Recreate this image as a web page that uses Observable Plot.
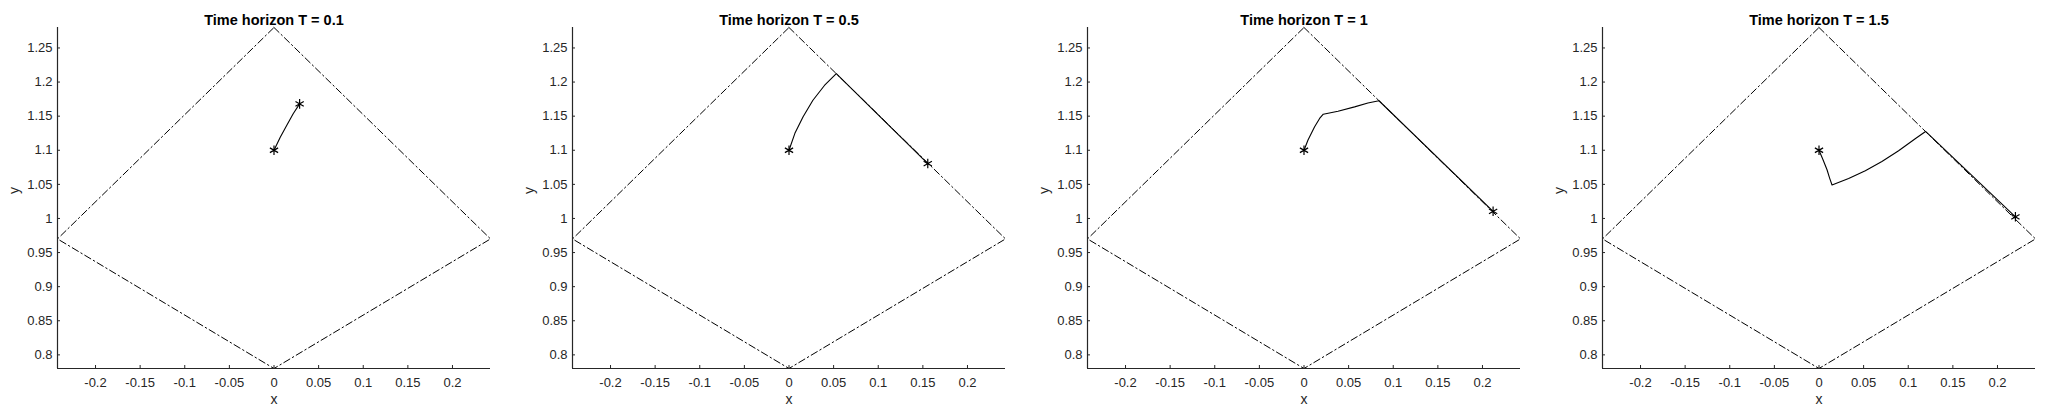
<!DOCTYPE html>
<html>
<head>
<meta charset="utf-8">
<script src="https://cdn.jsdelivr.net/npm/d3@7"></script>
<script src="https://cdn.jsdelivr.net/npm/@observablehq/plot@0.6"></script>
<style>
  html, body { margin: 0; padding: 0; background: #fff; width: 2050px; height: 415px; overflow: hidden; }
  #wrap { position: relative; width: 2050px; height: 415px; }
  .panel { position: absolute; top: 0; }
</style>
</head>
<body>
<div id="wrap"></div>
<script>
// ---- data ----
const horizons = ["0.1", "0.5", "1", "1.5"];

const boundaryX = [0, 0.2426, 0, -0.2426, 0];
const boundaryY = [1.28, 0.97, 0.78, 0.97, 1.28];

const path1X = [0, 0.007, 0.0145, 0.0215, 0.0287];
const path1Y = [1.1, 1.119, 1.137, 1.1535, 1.168];

const path2X = [0, 0.0066, 0.0158, 0.0268, 0.0397, 0.053, 0.1555];
const path2Y = [1.1, 1.1248, 1.149, 1.1733, 1.195, 1.2123, 1.0805];

const path3X = [0, 0.0045, 0.0119, 0.0175, 0.0216, 0.0381, 0.0567, 0.0716, 0.084, 0.2119];
const path3Y = [1.1, 1.115, 1.1345, 1.1466, 1.1529, 1.1573, 1.1636, 1.1694, 1.1726, 1.0105];

const path4X = [0, 0.0045, 0.009, 0.0119, 0.0146, 0.0332, 0.0519, 0.0705, 0.0892, 0.1078, 0.1194, 0.2201];
const path4Y = [1.1, 1.086, 1.0714, 1.0592, 1.049, 1.0585, 1.0701, 1.0836, 1.0992, 1.1168, 1.1276, 1.0024];

const xTicks = [-0.2, -0.15, -0.1, -0.05, 0, 0.05, 0.1, 0.15, 0.2];
const yTicks = [0.8, 0.85, 0.9, 0.95, 1, 1.05, 1.1, 1.15, 1.2, 1.25];

const xDomain = [-0.2426, 0.2426];
const yDomain = [0.78, 1.28];

const pathsX = [path1X, path2X, path3X, path4X];
const pathsY = [path1Y, path2Y, path3Y, path4Y];

// ---- drawing ----
const font = "'Liberation Sans', Arial, Helvetica, sans-serif";
const axisColor = "#262626";
const boundary = boundaryX.map((x, i) => ({x, y: boundaryY[i]}));

const wrap = document.getElementById("wrap");
horizons.forEach((h, k) => {
  const traj = pathsX[k].map((x, i) => ({x, y: pathsY[k][i]}));
  const ends = [traj[0], traj[traj.length - 1]];
  const chart = Plot.plot({
    width: 515,
    height: 415,
    marginLeft: 57,
    marginRight: 25,
    marginTop: 27,
    marginBottom: 47,
    x: {domain: xDomain},
    y: {domain: yDomain},
    style: {fontFamily: font, fontSize: "13px", color: axisColor, background: "white", overflow: "visible"},
    marks: [
      Plot.line(boundary, {x: "x", y: "y", stroke: "black", strokeWidth: 1, strokeDasharray: "7,3,1.5,3"}),
      Plot.line(traj, {x: "x", y: "y", stroke: "black", strokeWidth: 1.1}),
      Plot.dot(ends, {x: "x", y: "y", symbol: "asterisk", r: 4.5, stroke: "black", strokeWidth: 1.2}),
      Plot.ruleY([yDomain[0]], {stroke: axisColor, strokeWidth: 1.2}),
      Plot.ruleX([xDomain[0]], {stroke: axisColor, strokeWidth: 1.2}),
      Plot.axisX(xTicks, {tickSize: -3, tickPadding: 12, tickFormat: d => String(d), label: null, stroke: axisColor, fill: axisColor, fontSize: 13}),
      Plot.axisY(yTicks, {tickSize: -3, tickPadding: 8, tickFormat: d => String(d), label: null, stroke: axisColor, fill: axisColor, fontSize: 13}),
      Plot.text(["x"], {frameAnchor: "bottom", dy: 35, fontSize: 14, fill: axisColor}),
      Plot.text(["y"], {frameAnchor: "left", dx: -43, dy: -4, rotate: -90, fontSize: 14, fill: axisColor}),
      Plot.text([`Time horizon T = ${h}`], {frameAnchor: "top", dy: -13, fontSize: 14.5, fontWeight: "bold", fill: "black"})
    ]
  });
  chart.classList.add("panel");
  chart.style.left = (515 * k) + "px";
  wrap.appendChild(chart);
});
</script>
</body>
</html>
